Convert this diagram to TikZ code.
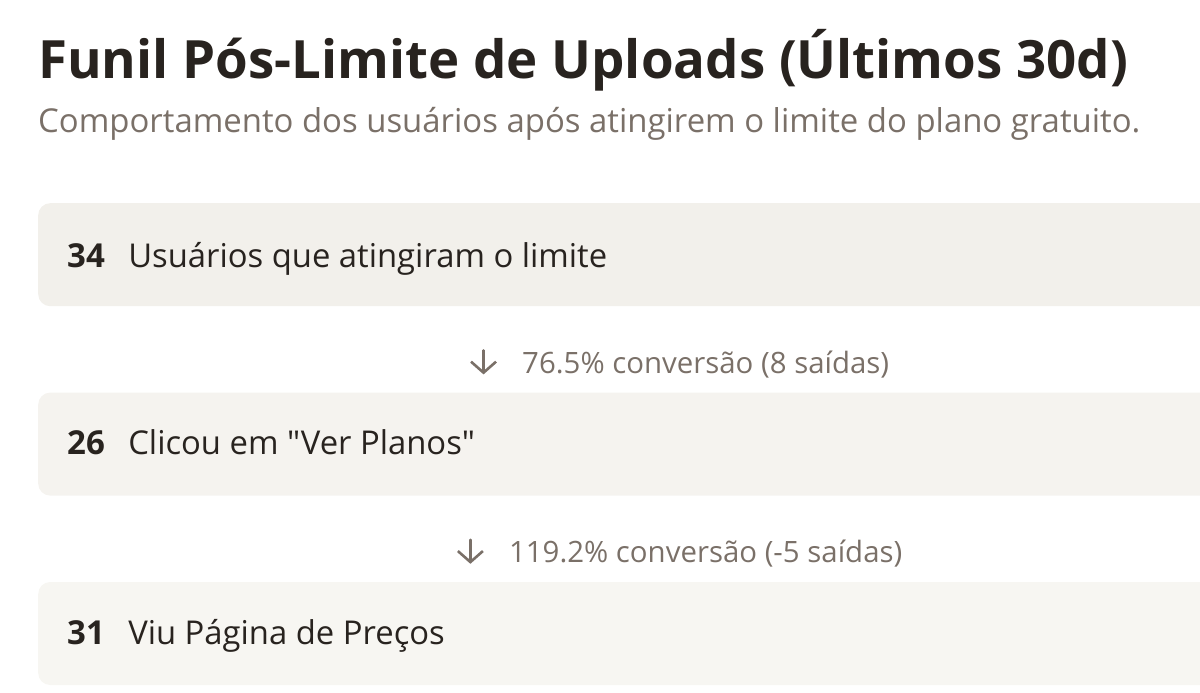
\documentclass[tikz,border=0pt]{standalone}
\usepackage{fontspec}
\setmainfont{Open Sans}[Ligatures=TeXOff]
\usepackage{xcolor}
\usetikzlibrary{positioning,calc,arrows.meta}

\definecolor{inkdark}{HTML}{28231F}
\definecolor{inkgray}{HTML}{7A7068}
\definecolor{stagefillA}{HTML}{F2F0EB}
\definecolor{stagefillB}{HTML}{F5F3EF}
\definecolor{stagefillC}{HTML}{F7F6F2}

\begin{document}
\begin{tikzpicture}[
    x=1pt, y=1pt,
    stagebox/.style={rectangle, rounded corners=12pt, inner sep=0pt, minimum width=1284pt, minimum height=103pt},
    title/.style={anchor=base west, inner sep=0pt, font=\fontsize{52.8}{60}\selectfont\bfseries, text=inkdark},
    subtitle/.style={anchor=base west, inner sep=0pt, font=\fontsize{32.9}{38}\selectfont, text=inkgray},
    count/.style={inner sep=0pt, font=\fontsize{33}{38}\selectfont\bfseries, text=inkdark},
    stagelabel/.style={inner sep=0pt, font=\fontsize{32.8}{38}\selectfont, text=inkdark},
    rate/.style={inner sep=0pt, font=\fontsize{29.4}{34}\selectfont, text=inkgray},
    ratearrow/.style={draw=inkgray, line width=2.6pt, line cap=round, -{Straight Barb[length=11pt, width=25pt, line width=2.6pt]}},
]

\clip (0,0) rectangle (1200,-693);

% Header
\node[title] (title) at (38,-78) {Funil Pós-Limite de Uploads (Últimos 30d)};
\node[subtitle] (subtitle) at (38,-132) {Comportamento dos usuários após atingirem o limite do plano gratuito.};

% Funnel stages
\node[stagebox, fill=stagefillA, anchor=north west] (hit) at (38,-203) {};
\node[stagebox, fill=stagefillB, below=86pt of hit] (plans) {};
\node[stagebox, fill=stagefillC, below=86pt of plans] (pricing) {};

% Counts and labels
\node[count, anchor=base west] (hitcount) at ($(hit.north west)+(29,-64)$) {34};
\node[stagelabel, right=23pt of hitcount.base east, anchor=base west] (hitlabel) {Usuários que atingiram o limite};

\node[count, anchor=base west] (planscount) at ($(plans.north west)+(29,-62)$) {26};
\node[stagelabel, right=23pt of planscount.base east, anchor=base west] (planslabel) {Clicou em "Ver Planos"};

\node[count, anchor=base west] (pricingcount) at ($(pricing.north west)+(29,-63)$) {31};
\node[stagelabel, right=23pt of pricingcount.base east, anchor=base west] (pricinglabel) {Viu Página de Preços};

% Conversion between stages
\node[rate, below=67pt of hit.south, anchor=base] (hitrate) {\hspace*{51pt}76.5\% conversão (8 saídas)};
\node[rate, below=67pt of plans.south, anchor=base] (plansrate) {\hspace*{51pt}119.2\% conversão (-5 saídas)};

\coordinate (hitarrowtop) at ($(hitrate.base west)+(12.5,23)$);
\coordinate (hitarrowtip) at ($(hitrate.base west)+(12.5,-1)$);
\coordinate (plansarrowtop) at ($(plansrate.base west)+(12.5,23)$);
\coordinate (plansarrowtip) at ($(plansrate.base west)+(12.5,-1)$);
\draw[ratearrow] (hitarrowtop) -- (hitarrowtip);
\draw[ratearrow] (plansarrowtop) -- (plansarrowtip);

\end{tikzpicture}
\end{document}
